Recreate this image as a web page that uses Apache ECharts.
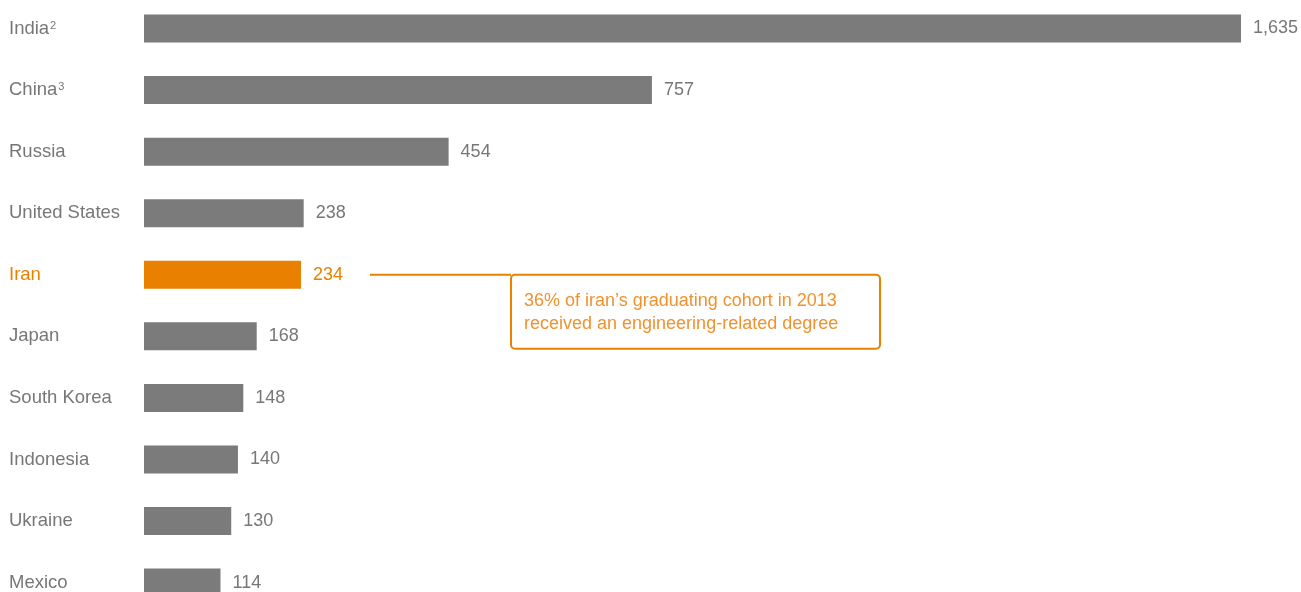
<!DOCTYPE html>
<html><head><meta charset="utf-8">
<script src="https://cdn.jsdelivr.net/npm/echarts@6/dist/echarts.min.js"></script>
<style>html,body{margin:0;padding:0;background:#fff}#c{width:1301px;height:592px}</style>
</head><body><div id="c"></div>
<script>
const categories = ['India', 'China', 'Russia', 'United States', 'Iran', 'Japan', 'South Korea', 'Indonesia', 'Ukraine', 'Mexico'];
const superscripts = ['2', '3', '', '', '', '', '', '', '', ''];
const values = [1635, 757, 454, 238, 234, 168, 148, 140, 130, 114];
const highlight = 'Iran';
const noteText = '36% of iran\u2019s graduating cohort in 2013\nreceived an engineering-related degree';

const GRAY = '#7b7b7b', ORANGE = '#e98000', TEXT = '#777777', NOTE = '#f0922e';
const FONT = '"Liberation Sans", Arial, Helvetica, sans-serif';

const chart = echarts.init(document.getElementById('c'));
const option = {
  animation: false,
  grid: { left: 144, right: 60, top: -2.3, height: 615.7, containLabel: false, outerBoundsMode: 'none' },
  xAxis: { type: 'value', min: 0, max: 1635, show: false },
  yAxis: {
    type: 'category', inverse: true,
    data: categories.map((c) => ({ value: c, textStyle: { color: c === highlight ? ORANGE : TEXT, align: 'left' } })),
    axisLine: { show: false }, axisTick: { show: false },
    axisLabel: {
      align: 'left', margin: 135, fontSize: 18.5, fontFamily: FONT,
      formatter: (v, i) => superscripts[i] ? v + '{sup|' + superscripts[i] + '}' : v,
      rich: { sup: { fontSize: 11, fontFamily: FONT, color: TEXT, padding: [0, 0, 6, 1] } }
    }
  },
  series: [{
    type: 'bar', barWidth: 28,
    data: values.map((v, i) => ({
      value: v,
      itemStyle: { color: categories[i] === highlight ? ORANGE : GRAY },
      label: { color: categories[i] === highlight ? ORANGE : TEXT }
    })),
    label: {
      show: true, position: 'right', distance: 12, fontSize: 18, fontFamily: FONT,
      formatter: (p) => p.value.toLocaleString('en-US')
    }
  }]
};
chart.setOption(option);

const idx = categories.indexOf(highlight);
const pt = chart.convertToPixel({ gridIndex: 0 }, [values[idx], idx]);
const y = pt[1];
chart.setOption({
  graphic: [
    { type: 'line', shape: { x1: 370, y1: y, x2: 511, y2: y }, style: { stroke: ORANGE, lineWidth: 2 } },
    { type: 'rect', shape: { x: 511, y: y, width: 369, height: 74, r: 4 }, style: { fill: 'none', stroke: ORANGE, lineWidth: 2 } },
    { type: 'text', x: 524, y: y + 15, style: { text: noteText, fill: NOTE, fontSize: 18, fontFamily: FONT, lineHeight: 23 } }
  ]
});
</script></body></html>
